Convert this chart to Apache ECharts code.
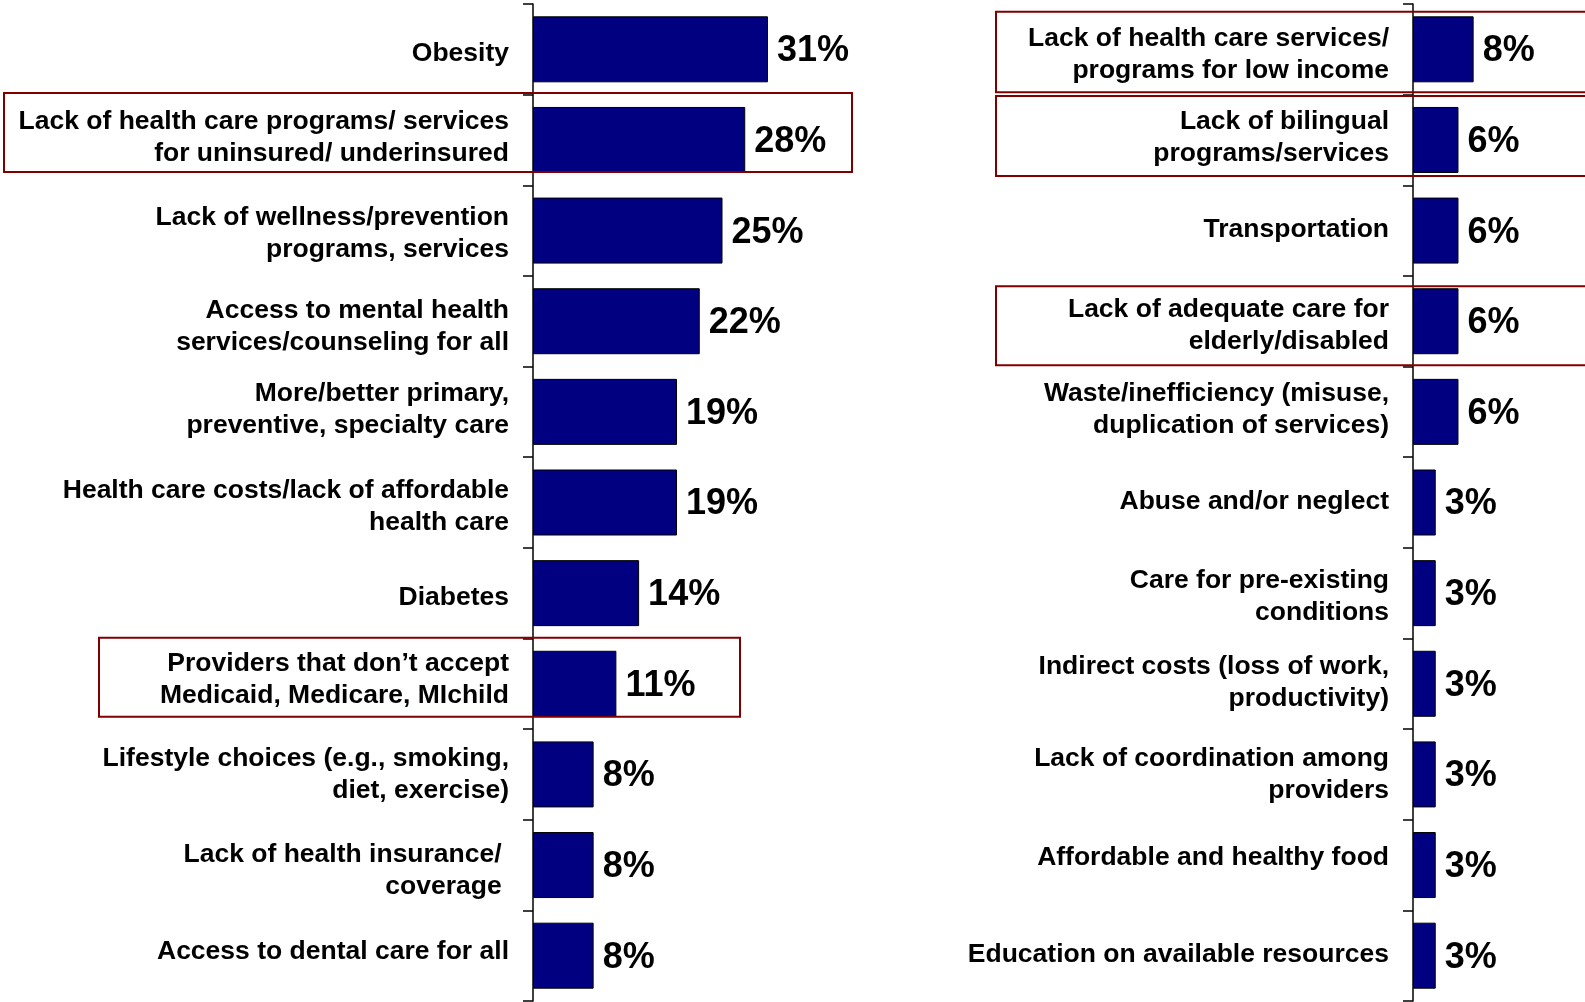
<!DOCTYPE html>
<html>
<head>
<meta charset="utf-8">
<script src="https://cdn.jsdelivr.net/npm/echarts@6/dist/echarts.min.js"></script>
<style>
  html, body { margin: 0; padding: 0; background: #fff; }
  #chart { width: 1585px; height: 1002px; }
</style>
</head>
<body>
<div id="chart"></div>
<script>
// left panel
const leftCategories = [
    "Obesity",
    "Lack of health care programs/ services\nfor uninsured/ underinsured",
    "Lack of wellness/prevention\nprograms, services",
    "Access to mental health\nservices/counseling for all",
    "More/better primary,\npreventive, specialty care",
    "Health care costs/lack of affordable\nhealth care",
    "Diabetes",
    "Providers that don\u2019t accept\nMedicaid, Medicare, MIchild",
    "Lifestyle choices (e.g., smoking,\ndiet, exercise)",
    "Lack of health insurance/ \ncoverage ",
    "Access to dental care for all"
];
const leftValues = [31, 28, 25, 22, 19, 19, 14, 11, 8, 8, 8];

// right panel
const rightCategories = [
    "Lack of health care services/\nprograms for low income",
    "Lack of bilingual\nprograms/services",
    "Transportation",
    "Lack of adequate care for\nelderly/disabled",
    "Waste/inefficiency (misuse,\nduplication of services)",
    "Abuse and/or neglect",
    "Care for pre-existing\nconditions",
    "Indirect costs (loss of work,\nproductivity)",
    "Lack of coordination among\nproviders",
    "Affordable and healthy food",
    "Education on available resources"
];
const rightValues = [8, 6, 6, 6, 6, 3, 3, 3, 3, 3, 3];

// rows that get a red outline
const leftHighlights = [1, 7];
const rightHighlights = [0, 1, 3];

// small vertical nudges of the row labels (px, + = down), the original isn't evenly placed
const leftLabelShift = [4, -2, 3, 5, -2, 4, 5, -4, 0, 6, -4];
const rightLabelShift = [5, -2, -1, 4, -2, -1, 4, -1, 0, -7, -1];

const pxPerPct = 7.58;
const FONT = "'Liberation Sans', Arial, sans-serif";
const LABEL_SIZE = 26.5;
const LINE_H = 32;

const chart = echarts.init(document.getElementById("chart"));

function baseText(extra) {
    return Object.assign({
        color: "#000",
        fontFamily: FONT,
        fontWeight: "bold",
        fontSize: LABEL_SIZE,
        lineHeight: LINE_H,
        align: "right"
    }, extra || {});
}

// rich styles: n = normal line, gK = empty spacer line K px high
const rich = { n: baseText() };
for (let k = 1; k <= 20; k++) {
    rich["g" + k] = { fontSize: 1, lineHeight: k, color: "#fff" };
}

function shiftedLabel(shifts) {
    return function (value, index) {
        const d = Math.round(shifts[index] || 0);
        let txt = value.split("\n").map(function (line) {
            return "{n|" + line + "}";
        }).join("\n");
        if (d > 0) txt = "{g" + (2 * d) + "| }\n" + txt;
        if (d < 0) txt = txt + "\n{g" + (-2 * d) + "| }";
        return txt;
    };
}

function makeYAxis(gridIndex, cats, shifts) {
    return {
        type: "category",
        gridIndex: gridIndex,
        data: cats,
        inverse: true,
        axisLine: { show: true, lineStyle: { color: "#000", width: 1.5 } },
        axisTick: { show: true, length: 10, lineStyle: { color: "#000", width: 1.5 } },
        axisLabel: baseText({
            margin: 24,
            formatter: shiftedLabel(shifts),
            rich: rich
        }),
        splitLine: { show: false }
    };
}

function makeSeries(idx, values) {
    return {
        type: "bar",
        xAxisIndex: idx,
        yAxisIndex: idx,
        data: values,
        barWidth: 66,
        itemStyle: { color: "#000080", borderColor: "#000", borderWidth: 1 },
        label: {
            show: true,
            position: "right",
            distance: 9,
            formatter: "{c}%",
            color: "#000",
            fontFamily: FONT,
            fontWeight: "bold",
            fontSize: 36,
            offset: [0, 2]
        },
        animation: false
    };
}

chart.setOption({
    animation: false,
    grid: [
        { left: 533, top: 4, height: 997, width: 40 * pxPerPct },
        { left: 1413, top: 4, height: 997, width: 20 * pxPerPct }
    ],
    xAxis: [
        { type: "value", gridIndex: 0, min: 0, max: 40, show: false },
        { type: "value", gridIndex: 1, min: 0, max: 20, show: false }
    ],
    yAxis: [makeYAxis(0, leftCategories, leftLabelShift), makeYAxis(1, rightCategories, rightLabelShift)],
    series: [makeSeries(0, leftValues), makeSeries(1, rightValues)]
});

// red outline boxes, placed from the category rows
function boxFor(axisIdx, cats, row, x1, x2, up, down) {
    const cy = chart.convertToPixel({ yAxisIndex: axisIdx }, cats[row]);
    return {
        type: "rect",
        z: 100,
        silent: true,
        shape: { x: x1, y: cy - up, width: x2 - x1, height: up + down },
        style: { fill: "none", stroke: "#800000", lineWidth: 2 }
    };
}

const boxes = [
    boxFor(0, leftCategories, leftHighlights[0], 4, 852, 47, 32),
    boxFor(0, leftCategories, leftHighlights[1], 99, 740, 46, 33),
    boxFor(1, rightCategories, rightHighlights[0], 996, 1600, 37.5, 43),
    boxFor(1, rightCategories, rightHighlights[1], 996, 1600, 44, 36),
    boxFor(1, rightCategories, rightHighlights[2], 996, 1600, 35, 44)
];
chart.setOption({ graphic: boxes });
</script>
</body>
</html>
